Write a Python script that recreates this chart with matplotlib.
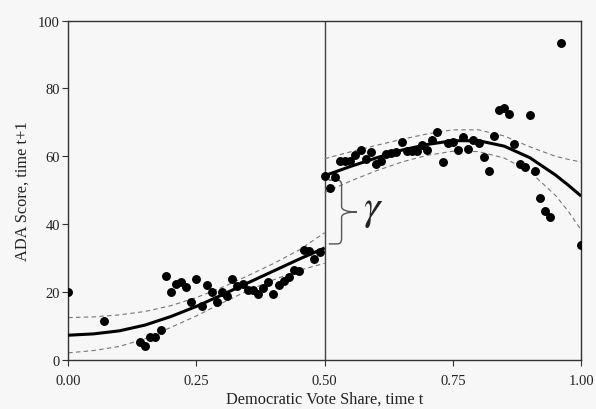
import numpy as np
import matplotlib
matplotlib.use("Agg")
import matplotlib.pyplot as plt
from matplotlib.path import Path
from matplotlib.patches import PathPatch

plt.rcParams['font.family'] = ['Liberation Serif', 'DejaVu Serif']
plt.rcParams['mathtext.fontset'] = 'stix'

# ---- data ----
left_x = [0.00, 0.07, 0.14, 0.15, 0.16, 0.17, 0.18, 0.19, 0.20, 0.21, 0.22, 0.23,
          0.24, 0.25, 0.26, 0.27, 0.28, 0.29, 0.30, 0.31, 0.32, 0.33, 0.34, 0.35,
          0.36, 0.37, 0.38, 0.39, 0.40, 0.41, 0.42, 0.43, 0.44, 0.45, 0.46, 0.47,
          0.48, 0.49]
left_y = [20.0, 11.4, 5.4, 4.0, 6.9, 6.8, 8.7, 24.8, 20.0, 22.5, 22.9, 21.4,
          17.2, 23.9, 15.8, 22.2, 20.1, 17.2, 19.9, 19.0, 23.9, 21.7, 22.4, 20.7,
          20.6, 19.4, 21.1, 23.1, 19.5, 22.1, 23.4, 24.4, 26.4, 26.2, 32.5, 32.0,
          29.8, 31.9]

right_x = [0.50, 0.51, 0.52, 0.53, 0.54, 0.55, 0.56, 0.57, 0.58, 0.59, 0.60, 0.61,
           0.62, 0.63, 0.64, 0.65, 0.66, 0.67, 0.68, 0.69, 0.70, 0.71, 0.72, 0.73,
           0.74, 0.75, 0.76, 0.77, 0.78, 0.79, 0.80, 0.81, 0.82, 0.83, 0.84, 0.85,
           0.86, 0.87, 0.88, 0.89, 0.90, 0.91, 0.92, 0.93, 0.94, 0.96, 1.00]
right_y = [54.1, 50.6, 53.8, 58.5, 58.7, 58.6, 60.5, 62.0, 59.2, 61.2, 57.7, 58.7,
           60.7, 60.9, 61.2, 64.3, 61.5, 61.5, 61.7, 63.2, 62.0, 64.9, 67.1, 58.4,
           64.0, 64.2, 62.0, 65.6, 62.2, 64.9, 64.0, 59.7, 55.6, 65.9, 73.5, 74.3,
           72.6, 63.7, 57.8, 57.0, 72.2, 55.8, 47.8, 43.8, 42.2, 93.4, 33.9]

# fitted curve and confidence band, read at fixed x positions
fitL_x = [0.00, 0.05, 0.10, 0.15, 0.20, 0.25, 0.30, 0.35, 0.40, 0.45, 0.50]
fitL_y = [7.3, 7.7, 8.6, 10.3, 12.8, 15.8, 19.2, 22.7, 26.2, 29.7, 33.0]
fitL_hi = [12.5, 12.7, 13.3, 14.3, 16.0, 18.4, 21.4, 24.8, 28.4, 32.4, 37.5]
fitL_lo = [2.1, 2.8, 4.0, 6.3, 9.6, 13.0, 16.8, 20.4, 23.6, 26.4, 28.5]

fitR_x = [0.50, 0.55, 0.60, 0.65, 0.70, 0.75, 0.80, 0.85, 0.90, 0.95, 0.975, 1.00]
fitR_y = [54.3, 57.0, 59.5, 61.8, 63.5, 64.6, 64.6, 63.0, 59.6, 54.5, 51.5, 48.3]
fitR_hi = [59.3, 61.3, 63.2, 65.0, 66.6, 67.8, 67.8, 66.0, 62.8, 60.0, 59.1, 58.3]
fitR_lo = [49.3, 52.7, 55.7, 58.3, 60.3, 61.5, 61.4, 59.5, 55.5, 48.5, 43.8, 38.3]

cutoff = 0.5
x_ticks = [0.00, 0.25, 0.50, 0.75, 1.00]
x_ticklabels = ['0.00', '0.25', '0.50', '0.75', '1.00']
y_ticks = [0, 20, 40, 60, 80, 100]

bg = '#f7f7f7'
fig = plt.figure(figsize=(5.96, 4.10), dpi=100, facecolor=bg)
ax = fig.add_axes([0.1145, 0.1195, 0.8605, 0.828], facecolor=bg)

# cutoff line
ax.axvline(cutoff, color='#444444', lw=1.0, zorder=1)

# confidence bands
for xs, ys in [(fitL_x, fitL_hi), (fitL_x, fitL_lo), (fitR_x, fitR_hi), (fitR_x, fitR_lo)]:
    ax.plot(xs, ys, color='#777777', lw=0.8, ls=(0, (4, 3)), zorder=2)

# fitted lines
ax.plot(fitL_x, fitL_y, color='black', lw=2.2, zorder=3, solid_capstyle='butt')
ax.plot(fitR_x, fitR_y, color='black', lw=2.2, zorder=3, solid_capstyle='butt')

# points
ax.plot(left_x, left_y, 'o', color='black', ms=5.4, mec='black', zorder=4)
ax.plot(right_x, right_y, 'o', color='black', ms=5.4, mec='black', zorder=4)

# curly brace showing the gap gamma
yb = fitL_y[-1] + 1.2
yt = fitR_y[0] - 1.3
ym = (yb + yt) / 2
xs_, xv, xt = 0.508, 0.533, 0.563
rx, ry = 0.008, 1.6
verts = [(xs_, yt), (xv - rx, yt), (xv, yt), (xv, yt - ry), (xv, ym + ry),
         (xv, ym), (xt, ym), (xv, ym), (xv, ym - ry), (xv, yb + ry),
         (xv, yb), (xv - rx, yb), (xs_, yb)]
codes = [Path.MOVETO, Path.LINETO, Path.CURVE3, Path.CURVE3, Path.LINETO,
         Path.CURVE3, Path.CURVE3, Path.CURVE3, Path.CURVE3, Path.LINETO,
         Path.CURVE3, Path.CURVE3, Path.LINETO]
ax.add_patch(PathPatch(Path(verts, codes), fill=False, ec='#555555', lw=1.0, zorder=3))
ax.text(0.574, ym + 0.8, r'$\gamma$', fontsize=30, color='#222222', ha='left', va='center')

ax.set_xlim(0, 1)
ax.set_ylim(0, 100)
ax.set_xticks(x_ticks)
ax.set_xticklabels(x_ticklabels)
ax.set_yticks(y_ticks)
ax.tick_params(axis='both', direction='out', length=4, width=0.8, color='#333333',
               labelsize=10.5, labelcolor='#222222')
ax.tick_params(axis='x', pad=6)
ax.tick_params(axis='y', pad=2)
for s in ax.spines.values():
    s.set_color('#333333')
    s.set_linewidth(1.0)

ax.set_xlabel('Democratic Vote Share, time t', fontsize=11.8, color='#222222', labelpad=3)
ax.set_ylabel('ADA Score, time t+1', fontsize=11.8, color='#222222', labelpad=5)

fig.savefig('out.png', dpi=100, facecolor=bg)
